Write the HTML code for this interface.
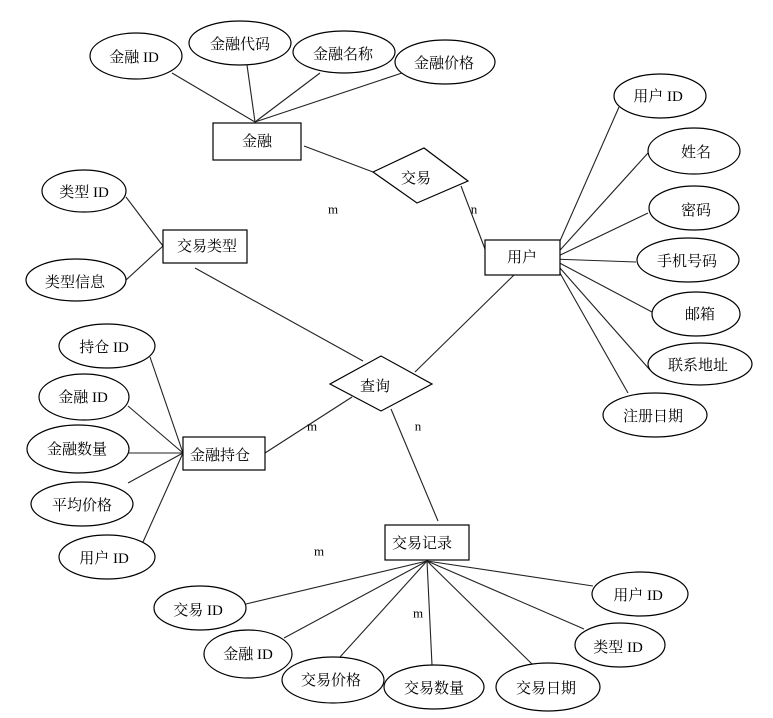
<!DOCTYPE html>
<html><head><meta charset="utf-8"><style>
html,body{margin:0;padding:0;background:#fff;}
svg{display:block;}
text{font-family:"Liberation Serif","Noto Serif CJK SC",serif;font-size:15px;fill:#000;text-anchor:middle;dominant-baseline:central;}
.s{fill:#fff;stroke:#000;stroke-width:1.2;}
line{stroke:#222;stroke-width:1.1;}
</style></head><body>
<svg width="773" height="718" viewBox="0 0 773 718" xmlns="http://www.w3.org/2000/svg">
<!-- lines -->
<line x1="172" y1="73" x2="255" y2="122"/>
<line x1="247" y1="65" x2="255" y2="122"/>
<line x1="320" y1="73" x2="255" y2="122"/>
<line x1="402" y1="73" x2="255" y2="122"/>
<line x1="304" y1="146" x2="373" y2="172"/>
<line x1="461" y1="186" x2="485" y2="249"/>
<line x1="126" y1="197" x2="163" y2="246"/>
<line x1="126" y1="280" x2="163" y2="246"/>
<line x1="195" y1="268" x2="363" y2="361"/>
<line x1="150" y1="357" x2="183" y2="453"/>
<line x1="128" y1="406" x2="183" y2="453"/>
<line x1="129" y1="453" x2="183" y2="453"/>
<line x1="128" y1="483" x2="183" y2="453"/>
<line x1="143" y1="542" x2="183" y2="453"/>
<line x1="265" y1="453" x2="352" y2="397"/>
<line x1="514" y1="275" x2="415" y2="372"/>
<line x1="391" y1="409" x2="438" y2="521"/>
<line x1="427" y1="561" x2="246" y2="604"/>
<line x1="427" y1="561" x2="284" y2="638"/>
<line x1="427" y1="561" x2="340" y2="657"/>
<line x1="427" y1="561" x2="432" y2="665"/>
<line x1="427" y1="561" x2="533" y2="665"/>
<line x1="427" y1="561" x2="584" y2="629"/>
<line x1="427" y1="561" x2="593" y2="586"/>
<line x1="552" y1="259" x2="619" y2="107"/>
<line x1="552" y1="259" x2="648" y2="153"/>
<line x1="552" y1="259" x2="648" y2="213"/>
<line x1="552" y1="259" x2="636" y2="262"/>
<line x1="552" y1="259" x2="652" y2="312"/>
<line x1="552" y1="259" x2="650" y2="370"/>
<line x1="552" y1="259" x2="628" y2="393"/>
<!-- entities -->
<rect class="s" x="213" y="123" width="88" height="37"/><text x="257" y="142">金融</text>
<rect class="s" x="163" y="230" width="84" height="33"/><text x="207" y="247">交易类型</text>
<rect class="s" x="485" y="240" width="75" height="35"/><text x="522" y="258">用户</text>
<rect class="s" x="183" y="437" width="82" height="33"/><text x="220" y="456">金融持仓</text>
<rect class="s" x="385" y="525" width="84" height="35"/><text x="422" y="544">交易记录</text>
<!-- relations -->
<polygon class="s" points="373,172 424,148 468,181 417,203"/><text x="416" y="179">交易</text>
<polygon class="s" points="330,384 381,356 432,384 381,411"/><text x="375" y="387">查询</text>
<!-- attributes -->
<ellipse class="s" cx="136" cy="56" rx="46" ry="23"/><text x="134" y="58">金融 ID</text>
<ellipse class="s" cx="240" cy="43" rx="51" ry="22"/><text x="240" y="45">金融代码</text>
<ellipse class="s" cx="344" cy="52" rx="51" ry="21"/><text x="343" y="55">金融名称</text>
<ellipse class="s" cx="445" cy="62" rx="50" ry="22"/><text x="444" y="64">金融价格</text>
<ellipse class="s" cx="84" cy="191" rx="42" ry="21"/><text x="84" y="193">类型 ID</text>
<ellipse class="s" cx="76" cy="280" rx="50" ry="21"/><text x="75" y="283">类型信息</text>
<ellipse class="s" cx="107" cy="346" rx="48" ry="22"/><text x="104" y="348">持仓 ID</text>
<ellipse class="s" cx="84" cy="397" rx="45" ry="23"/><text x="83" y="398">金融 ID</text>
<ellipse class="s" cx="78" cy="449" rx="51" ry="24"/><text x="77" y="450">金融数量</text>
<ellipse class="s" cx="82" cy="504" rx="51" ry="22"/><text x="82" y="506">平均价格</text>
<ellipse class="s" cx="107" cy="557" rx="48" ry="22"/><text x="104" y="559">用户 ID</text>
<ellipse class="s" cx="200" cy="608" rx="46" ry="22"/><text x="198" y="611">交易 ID</text>
<ellipse class="s" cx="248" cy="654" rx="44" ry="24"/><text x="248" y="655">金融 ID</text>
<ellipse class="s" cx="333" cy="680" rx="51" ry="23"/><text x="331" y="681">交易价格</text>
<ellipse class="s" cx="434" cy="687" rx="50" ry="22"/><text x="434" y="689">交易数量</text>
<ellipse class="s" cx="548" cy="687" rx="52" ry="24"/><text x="546" y="689">交易日期</text>
<ellipse class="s" cx="620" cy="645" rx="45" ry="22"/><text x="618" y="648">类型 ID</text>
<ellipse class="s" cx="640" cy="594" rx="48" ry="22"/><text x="638" y="596">用户 ID</text>
<ellipse class="s" cx="660" cy="96" rx="46" ry="22"/><text x="658" y="97">用户 ID</text>
<ellipse class="s" cx="694" cy="151" rx="46" ry="23"/><text x="696" y="153">姓名</text>
<ellipse class="s" cx="694" cy="208" rx="45" ry="22"/><text x="696" y="211">密码</text>
<ellipse class="s" cx="688" cy="260" rx="51" ry="22"/><text x="687" y="262">手机号码</text>
<ellipse class="s" cx="696" cy="314" rx="44" ry="22"/><text x="700" y="315">邮箱</text>
<ellipse class="s" cx="700" cy="364" rx="52" ry="21"/><text x="698" y="366">联系地址</text>
<ellipse class="s" cx="655" cy="415" rx="52" ry="22"/><text x="653" y="417">注册日期</text>
<!-- cardinalities -->
<text x="333" y="209" style="font-size:13px">m</text>
<text x="474" y="209" style="font-size:13px">n</text>
<text x="312" y="426" style="font-size:13px">m</text>
<text x="418" y="426" style="font-size:13px">n</text>
<text x="319" y="551" style="font-size:13px">m</text>
<text x="418" y="613" style="font-size:13px">m</text>
</svg>
</body></html>
